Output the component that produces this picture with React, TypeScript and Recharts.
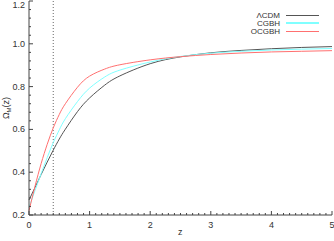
import { LineChart, Line, XAxis, YAxis, ReferenceLine } from 'recharts';

const zValues = [0, 0.1, 0.2, 0.3, 0.4, 0.5, 0.6, 0.8, 1.0, 1.25, 1.5, 2.0, 2.5, 3.0, 3.5, 4.0, 4.5, 5.0];
const lcdm = [0.27, 0.329, 0.389, 0.447, 0.503, 0.555, 0.601, 0.683, 0.747, 0.807, 0.85, 0.907, 0.939, 0.958, 0.969, 0.977, 0.983, 0.987];
const cgbh = [0.235, 0.315, 0.393, 0.468, 0.538, 0.598, 0.65, 0.73, 0.793, 0.845, 0.877, 0.915, 0.941, 0.956, 0.965, 0.971, 0.975, 0.978];
const ocgbh = [0.22, 0.335, 0.44, 0.53, 0.607, 0.67, 0.72, 0.797, 0.849, 0.882, 0.902, 0.925, 0.94, 0.95, 0.957, 0.962, 0.965, 0.968];

const xTicks = Array.from({ length: 51 }, (_, i) => i / 10);
const yTicks = Array.from({ length: 26 }, (_, i) => Math.round((0.2 + i * 0.04) * 100) / 100);

const series = [
  { key: 'lcdm', name: '\u039BCDM', color: '#555555', legendWidth: 1 },
  { key: 'cgbh', name: 'CGBH', color: '#80ffff', legendWidth: 2 },
  { key: 'ocgbh', name: 'OCGBH', color: '#ff7070', legendWidth: 1.5 },
];

const data = zValues.map((z, i) => ({ z, lcdm: lcdm[i], cgbh: cgbh[i], ocgbh: ocgbh[i] }));

const axisColor = '#444';
const font = 'Liberation Sans, Arial, sans-serif';

const isMajorX = (v: number) => Math.abs(v - Math.round(v)) < 1e-6;
const isMajorY = (v: number) => Math.abs(v * 5 - Math.round(v * 5)) < 1e-6;

function XTick({ x, y, payload, top }: any) {
  const major = isMajorX(payload.value);
  const len = major ? 4 : 2;
  const dir = top ? 1 : -1;
  return (
    <g>
      <line x1={x} y1={y} x2={x} y2={y + dir * len} stroke={axisColor} strokeWidth={1} />
      {major && !top && (
        <text x={x} y={y + 13} textAnchor="middle" fontSize={9} fontFamily={font} fill="#333">
          {payload.value}
        </text>
      )}
    </g>
  );
}

function YTick({ x, y, payload, right }: any) {
  const major = isMajorY(payload.value);
  const len = major ? 4 : 2;
  const dir = right ? -1 : 1;
  return (
    <g>
      <line x1={x} y1={y} x2={x + dir * len} y2={y} stroke={axisColor} strokeWidth={1} />
      {major && !right && (
        <text x={x - 4} y={Math.max(y + 3, 8)} textAnchor="end" fontSize={9} fontFamily={font} fill="#333">
          {payload.value.toFixed(1)}
        </text>
      )}
    </g>
  );
}

export default function App() {
  return (
    <div style={{ position: 'absolute', left: 0, top: 0, width: 334, height: 241, background: '#fff' }}>
      <LineChart width={334} height={241} data={data} margin={{ top: 1, right: 2, bottom: 0, left: 0 }}>
        <XAxis
          xAxisId="b"
          dataKey="z"
          type="number"
          domain={[0, 5]}
          ticks={xTicks}
          interval={0}
          tickSize={0}
          tickMargin={0}
          height={26}
          stroke={axisColor}
          tick={<XTick />}
        />
        <XAxis
          xAxisId="t"
          dataKey="z"
          type="number"
          orientation="top"
          domain={[0, 5]}
          ticks={xTicks}
          interval={0}
          tickSize={0}
          tickMargin={0}
          height={0}
          stroke={axisColor}
          tick={<XTick top />}
        />
        <YAxis
          yAxisId="l"
          type="number"
          domain={[0.2, 1.2]}
          ticks={yTicks}
          interval={0}
          tickSize={0}
          tickMargin={0}
          width={29}
          stroke={axisColor}
          tick={<YTick />}
        />
        <YAxis
          yAxisId="r"
          type="number"
          orientation="right"
          domain={[0.2, 1.2]}
          ticks={yTicks}
          interval={0}
          tickSize={0}
          tickMargin={0}
          width={0}
          stroke={axisColor}
          tick={<YTick right />}
        />
        <ReferenceLine xAxisId="b" yAxisId="l" x={0.4} stroke="#666" strokeDasharray="1 2" />
        {series.map((s) => (
          <Line
            key={s.key}
            xAxisId="b"
            yAxisId="l"
            type="natural"
            dataKey={s.key}
            name={s.name}
            stroke={s.color}
            strokeWidth={1}
            dot={false}
            isAnimationActive={false}
          />
        ))}
      </LineChart>
      <svg width={16} height={40} style={{ position: 'absolute', left: 0, top: 88 }}>
        <text
          transform="translate(9, 20) rotate(-90)"
          textAnchor="middle"
          fontSize={9}
          fontFamily={font}
          fill="#333"
        >
          {'\u03A9'}
          <tspan fontSize={6} dy={2}>M</tspan>
          <tspan dy={-2}>(z)</tspan>
        </text>
      </svg>
      <div style={{ position: 'absolute', left: 178, top: 227, fontFamily: font, fontSize: 9, color: '#333' }}>z</div>
      <div style={{ position: 'absolute', right: 15, top: 11, fontFamily: font, fontSize: 8, color: '#333' }}>
        {series.map((s) => (
          <div key={s.key} style={{ display: 'flex', alignItems: 'center', height: 8.2, justifyContent: 'flex-end' }}>
            <span style={{ marginRight: 6 }}>{s.name}</span>
            <span style={{ display: 'inline-block', width: 33, height: 0, borderTop: `${s.legendWidth}px solid ${s.color}` }} />
          </div>
        ))}
      </div>
    </div>
  );
}
